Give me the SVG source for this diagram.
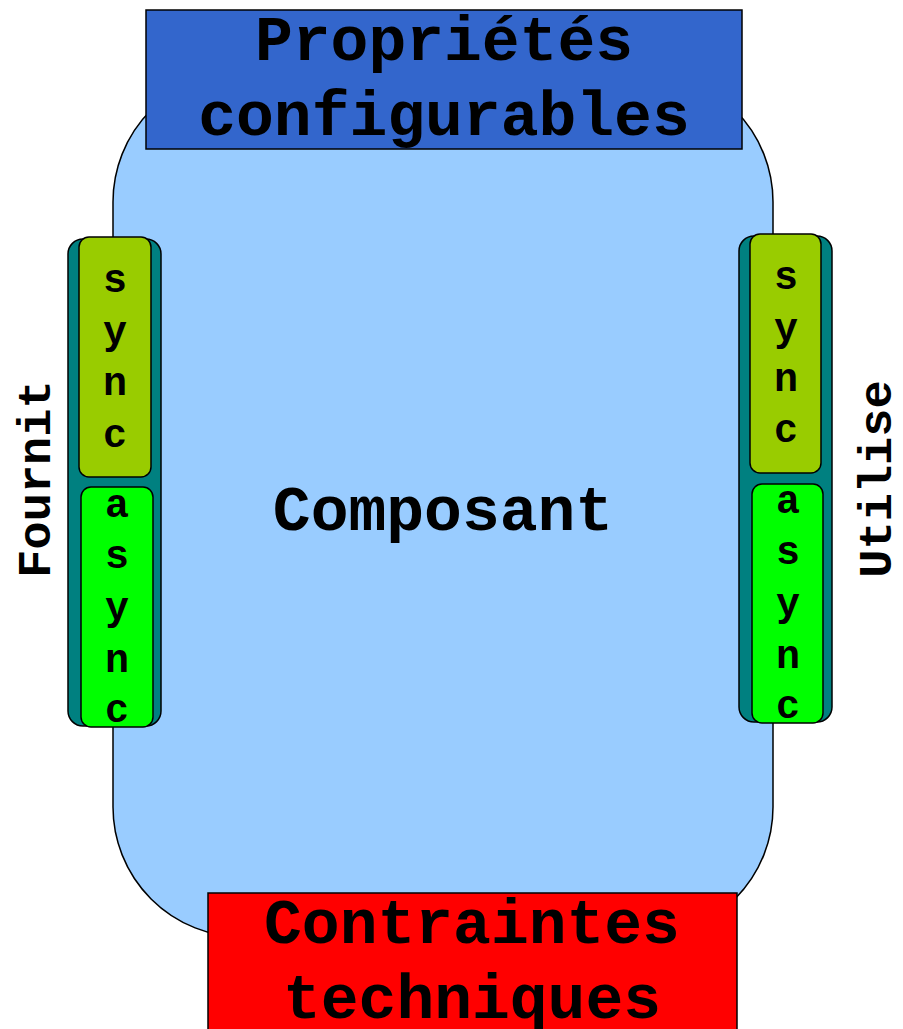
<svg xmlns="http://www.w3.org/2000/svg" width="903" height="1029" viewBox="0 0 903 1029">
  <style>
    .t { font-family: "Liberation Mono", "Courier New", monospace; font-weight: bold; fill: #000; text-anchor: middle; }
    .big { font-size: 63px; }
    .side { font-size: 47px; }
    .ch { font-size: 40px; }
    .edge { stroke: #000; stroke-width: 1.5; }
  </style>
  <rect width="903" height="1029" fill="#fff"/>

  <!-- component body -->
  <g id="composant">
    <rect class="edge" x="113" y="72" width="660" height="865" rx="130" ry="130" fill="#99ccff"/>
    <text class="t big" x="443" y="530">Composant</text>
  </g>

  <!-- configurable properties (top) -->
  <g id="proprietes">
    <rect class="edge" x="146" y="10" width="596" height="139" fill="#3366cc"/>
    <text class="t big" x="444" y="60">Propriétés</text>
    <text class="t big" x="444" y="135">configurables</text>
  </g>

  <!-- technical constraints (bottom) -->
  <g id="contraintes">
    <rect class="edge" x="208" y="893" width="529" height="150" fill="#ff0000"/>
    <text class="t big" x="472" y="943">Contraintes</text>
    <text class="t big" x="472" y="1018">techniques</text>
  </g>

  <!-- provided interfaces (left) -->
  <g id="fournit">
    <rect class="edge" x="68" y="239" width="93" height="487" rx="15" fill="#008080"/>
    <rect class="edge" x="79" y="237" width="72" height="240" rx="10" fill="#99cc00"/>
    <rect class="edge" x="81" y="487" width="72" height="240" rx="10" fill="#00ff00"/>
    <g class="t ch">
      <text x="115" y="292">s</text>
      <text x="115" y="344">y</text>
      <text x="115" y="395">n</text>
      <text x="115" y="447">c</text>
      <text x="117" y="517">a</text>
      <text x="117" y="568">s</text>
      <text x="117" y="620">y</text>
      <text x="117" y="672">n</text>
      <text x="117" y="722">c</text>
    </g>
    <text class="t side" transform="translate(50 479) rotate(-90)">Fournit</text>
  </g>

  <!-- used interfaces (right) -->
  <g id="utilise">
    <rect class="edge" x="739" y="236" width="93" height="486" rx="15" fill="#008080"/>
    <rect class="edge" x="750" y="234" width="71" height="239" rx="10" fill="#99cc00"/>
    <rect class="edge" x="752" y="484" width="71" height="239" rx="10" fill="#00ff00"/>
    <g class="t ch">
      <text x="786" y="289">s</text>
      <text x="786" y="341">y</text>
      <text x="786" y="391">n</text>
      <text x="786" y="442">c</text>
      <text x="788" y="513">a</text>
      <text x="788" y="564">s</text>
      <text x="788" y="616">y</text>
      <text x="788" y="668">n</text>
      <text x="788" y="718">c</text>
    </g>
    <text class="t side" transform="translate(891 479) rotate(-90)">Utilise</text>
  </g>

  <g id="connectors"></g>
</svg>
